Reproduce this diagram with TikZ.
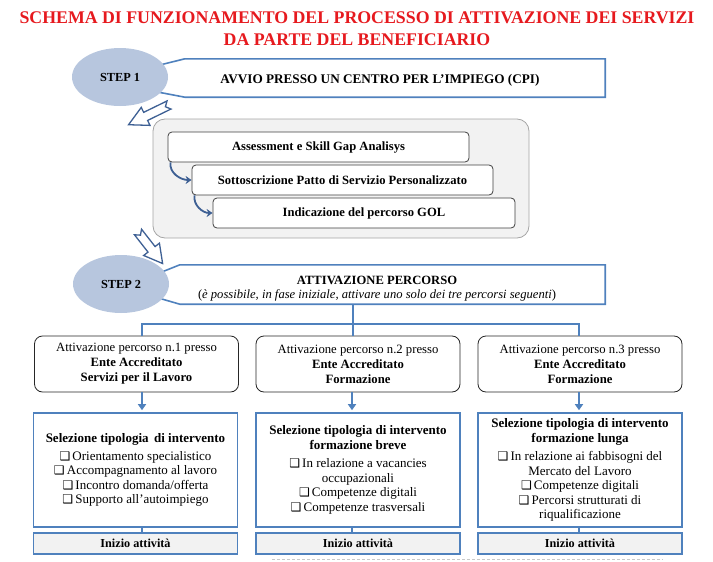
\documentclass[tikz,border=0pt]{standalone}
\usepackage{fontspec}
\setmainfont{Liberation Serif}
\newfontfamily\symfont{DejaVu Sans}
\usetikzlibrary{shapes.geometric,arrows.meta,calc}
\definecolor{titlered}{RGB}{230,25,30}
\definecolor{boxblue}{RGB}{79,129,189}
\definecolor{darkblue}{RGB}{62,96,148}
\definecolor{ellfill}{RGB}{183,198,222}
\definecolor{lightgray}{RGB}{242,242,242}
\definecolor{contgray}{RGB}{165,165,165}
\definecolor{dashgray}{RGB}{200,200,200}
\newcommand{\cbx}{{\symfont\fontsize{12}{10}\selectfont ❑}\,}
\begin{document}
\begin{tikzpicture}[x=1pt,y=1pt,
  stepell/.style={ellipse, fill=ellfill, minimum width=96, minimum height=58, inner sep=0pt,
    font=\fontsize{12.3}{14}\selectfont\bfseries},
  callout/.style={draw=boxblue, line width=1.6pt, fill=white, line join=miter},
  frame/.style={minimum width=#1, inner sep=0pt, draw=none},
  blockarr/.style={draw=darkblue, line width=1.3pt, fill=white, line join=miter},
  contbox/.style={draw=contgray, line width=0.8pt, fill=lightgray, rounded corners=12pt,
    minimum width=376, minimum height=119, inner sep=0pt},
  gbox/.style={draw=black!75, line width=0.8pt, fill=white, rounded corners=4pt,
    minimum width=301, minimum height=30, inner sep=0pt, font=\fontsize{12.6}{14}\selectfont\bfseries},
  curvarr/.style={draw=darkblue, line width=1.8pt, -{Stealth[length=6pt,width=8pt]}},
  hbox/.style={draw=black!85, line width=0.8pt, fill=white, rounded corners=8pt,
    minimum width=204, minimum height=56, inner sep=0pt, align=center,
    font=\fontsize{12.7}{15}\selectfont},
  selbox/.style={draw=boxblue, line width=1.6pt, fill=white, minimum width=204, minimum height=114,
    inner sep=0pt, align=center, font=\fontsize{13}{14.5}\selectfont},
  inbox/.style={draw=boxblue, line width=1.6pt, fill=lightgray, minimum width=204, minimum height=21,
    inner sep=0pt, font=\fontsize{12.2}{14}\selectfont\bfseries},
  tree/.style={draw=boxblue, line width=1.6pt},
  downarr/.style={draw=boxblue, line width=1.6pt, -{Triangle[length=6pt,width=8pt]}, shorten >=2pt},
]
\useasboundingbox (0,0) rectangle (713,-562);

% Title
\node[font=\fontsize{17.8}{22}\selectfont\bfseries, text=titlered, align=center] (title) at (357,-29)
  {SCHEMA DI FUNZIONAMENTO DEL PROCESSO DI ATTIVAZIONE DEI SERVIZI\\DA PARTE DEL BENEFICIARIO};

% STEP 1
\node[frame=420, minimum height=38] (f1) at (395,-78) {};
\draw[callout] (f1.north west) -- (f1.north east) -- (f1.south east) -- (f1.south west)
  -- ($(f1.south west)+(-45,8.6)$) -- ($(f1.north west)+(-45,-11.2)$) -- cycle;
\node[stepell] (e1) at (120,-77) {STEP 1};
\node[font=\fontsize{13.2}{14}\selectfont\bfseries] (avvio) at (380,-80)
  {AVVIO PRESSO UN CENTRO PER L’IMPIEGO (CPI)};

% block arrow 1
\draw[blockarr, shift={(169,-105)}, rotate=206]
  (0,4.5) -- (26,4.5) -- (26,10) -- (45,0) -- (26,-10) -- (26,-4.5) -- (0,-4.5) -- (4,0) -- cycle;

% container
\node[contbox] (cont) at (341,-178.5) {};
\node[gbox] (ga) at (318.5,-147) {Assessment e Skill Gap Analisys};
\node[gbox] (gb) at (342.5,-180) {Sottoscrizione Patto di Servizio Personalizzato};
\node[gbox, minimum width=302] (gc) at (364,-213) {Indicazione del percorso GOL};
\draw[curvarr] ([xshift=3pt]ga.south west) to[out=-100,in=180] (gb.west);
\draw[curvarr] ([xshift=3pt]gb.south west) to[out=-100,in=180] (gc.west);

% block arrow 2
\draw[blockarr, shift={(138,-232)}, rotate=-52]
  (0,4.5) -- (22,4.5) -- (22,10) -- (40,0) -- (22,-10) -- (22,-4.5) -- (0,-4.5) -- (4,0) -- cycle;

% STEP 2
\node[frame=425, minimum height=39] (f2) at (392.5,-284.5) {};
\draw[callout] (f2.north west) -- (f2.north east) -- (f2.south east) -- (f2.south west)
  -- ($(f2.south west)+(-40,11.6)$) -- ($(f2.north west)+(-40,-16)$) -- cycle;
\node[stepell] (e2) at (121,-284) {STEP 2};
\node[inner sep=0pt, font=\fontsize{12.6}{14}\selectfont\bfseries] (attiv) at (377,-280.5)
  {ATTIVAZIONE PERCORSO};
\node[inner sep=0pt, font=\fontsize{12.6}{13}\selectfont] (attivsub) at (377,-295.5)
  {(\textit{è possibile, in fase iniziale, attivare uno solo dei tre percorsi seguenti})};

% three paths
\node[hbox] (p1) at (136.5,-364) {Attivazione percorso n.1 presso\\\textbf{Ente Accreditato}\\\textbf{Servizi per il Lavoro}};
\node[hbox] (p2) at (358,-364) {Attivazione percorso n.2 presso\\\textbf{Ente Accreditato}\\\textbf{Formazione}};
\node[hbox] (p3) at (580,-364) {Attivazione percorso n.3 presso\\\textbf{Ente Accreditato}\\\textbf{Formazione}};

\coordinate (junc) at (353,-324);
\draw[tree] (f2.south -| junc) -- (junc);
\draw[tree] ([xshift=5.5pt]p1.north) |- (junc) -| ([xshift=-1pt]p3.north);
\draw[tree] (junc) -- (p2.north -| junc);

\node[selbox] (s1) at (135.5,-470) {\textbf{Selezione tipologia\, di intervento}\\[3pt]
  \cbx Orientamento specialistico\\ \cbx Accompagnamento al lavoro\\ \cbx Incontro domanda/offerta\\ \cbx Supporto all’autoimpiego};
\node[selbox] (s2) at (358,-470) {\textbf{Selezione tipologia di intervento}\\\textbf{formazione breve}\\[4pt]
  \cbx In relazione a vacancies\\ occupazionali\\ \cbx Competenze digitali\\ \cbx Competenze trasversali};
\node[selbox] (s3) at (580,-470) {\textbf{Selezione tipologia di intervento}\\\textbf{formazione lunga}\\[4pt]
  \cbx In relazione ai fabbisogni del\\ Mercato del Lavoro\\ \cbx Competenze digitali\\ \cbx Percorsi strutturati di\\ riqualificazione};

\draw[downarr] ([xshift=5.5pt]p1.south) -- ([xshift=5.5pt]p1.south |- s1.north);
\draw[downarr] ([xshift=-6pt]p2.south) -- ([xshift=-6pt]p2.south |- s2.north);
\draw[downarr] ([xshift=-1pt]p3.south) -- ([xshift=-1pt]p3.south |- s3.north);

\node[inbox] (i1) at (135.5,-543.5) {Inizio attività};
\node[inbox] (i2) at (358,-543.5) {Inizio attività};
\node[inbox] (i3) at (580,-543.5) {Inizio attività};

\draw[tree] ([xshift=6.5pt]s1.south) -- ([xshift=6.5pt]s1.south |- i1.north);
\draw[tree] ([xshift=-6pt]s2.south) -- ([xshift=-6pt]s2.south |- i2.north);
\draw[tree] ([xshift=-1pt]s3.south) -- ([xshift=-1pt]s3.south |- i3.north);

% dashed line
\coordinate (dl) at (272,-559);
\coordinate (dr) at (663,-559);
\draw[dashgray, line width=0.8pt, dash pattern=on 3pt off 2pt] (dl) -- (dr);
\end{tikzpicture}
\end{document}
